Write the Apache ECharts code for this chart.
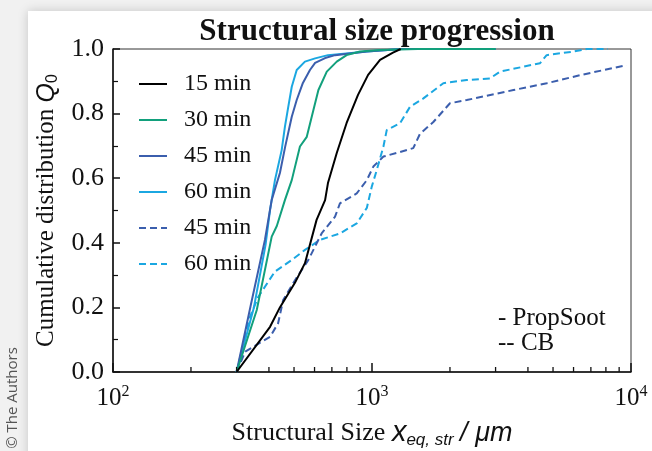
<!DOCTYPE html>
<html>
<head>
<meta charset="utf-8">
<script src="https://cdn.jsdelivr.net/npm/echarts@6/dist/echarts.min.js"></script>
<style>
  html, body { margin: 0; padding: 0; background: #f1f1f1; }
  #chart { width: 652px; height: 451px; }
</style>
</head>
<body>
<div id="chart"></div>
<script>
// Cumulative distribution Q0 of structural size (µm) per residence time
const blackX = [300, 404, 441, 504, 551, 611, 659, 676, 731, 798, 883, 966, 1074, 1205, 1290];
const blackY = [0, 0.14, 0.2, 0.276, 0.337, 0.471, 0.532, 0.585, 0.678, 0.771, 0.858, 0.92, 0.966, 0.989, 1.0];

const green30X = [300, 359, 410, 429, 461, 490, 527, 560, 594, 621, 669, 731, 798, 898, 1074, 1500, 3000];
const green30Y = [0, 0.192, 0.419, 0.452, 0.532, 0.594, 0.698, 0.728, 0.811, 0.873, 0.93, 0.961, 0.981, 0.992, 0.997, 1.0, 1.0];

const blue45X = [300, 340, 386, 410, 441, 462, 490, 512, 541, 576, 603, 659, 720, 955, 1300, 3000];
const blue45Y = [0, 0.205, 0.409, 0.533, 0.616, 0.697, 0.79, 0.842, 0.895, 0.935, 0.957, 0.972, 0.981, 0.992, 1.0, 1.0];

const cyan60X = [300, 350, 388, 404, 422, 448, 461, 475, 490, 512, 551, 603, 676, 957, 1300, 3000];
const cyan60Y = [0, 0.2, 0.393, 0.502, 0.594, 0.687, 0.759, 0.821, 0.883, 0.935, 0.961, 0.971, 0.981, 0.992, 1.0, 1.0];

const cb45X = [300, 324, 404, 434, 454, 505, 568, 639, 720, 752, 873, 955, 1012, 1107, 1283, 1443, 1531, 1725, 2000, 2321, 3516, 4730, 6356, 9613];
const cb45Y = [0, 0.063, 0.109, 0.151, 0.223, 0.285, 0.347, 0.429, 0.481, 0.522, 0.553, 0.594, 0.636, 0.667, 0.681, 0.693, 0.737, 0.774, 0.832, 0.842, 0.873, 0.894, 0.919, 0.95];

const cb60X = [300, 338, 364, 422, 490, 551, 630, 752, 873, 955, 998, 1043, 1107, 1140, 1283, 1402, 1579, 1885, 2321, 2856, 3122, 4455, 4724, 5980, 6745, 8150];
const cb60Y = [0, 0.171, 0.233, 0.311, 0.347, 0.378, 0.409, 0.429, 0.46, 0.508, 0.574, 0.625, 0.698, 0.749, 0.77, 0.821, 0.847, 0.894, 0.904, 0.909, 0.93, 0.956, 0.981, 0.992, 1.0, 1.0];

const seriesNames = ['15 min', '30 min', '45 min', '60 min', '45 min ', '60 min '];
const xMinorTicks = [200, 300, 400, 500, 600, 700, 800, 900, 2000, 3000, 4000, 5000, 6000, 7000, 8000, 9000];

const pairs = (xs, ys) => xs.map((x, i) => [x, ys[i]]);

const SERIF = "'Liberation Serif', 'Times New Roman', serif";
const SANS = "'Liberation Sans', Arial, sans-serif";

const colors = ['#000000', '#12a07c', '#3b5ead', '#1ba7e1', '#3b5ead', '#1ba7e1'];
const xs = [blackX, green30X, blue45X, cyan60X, cb45X, cb60X];
const ys = [blackY, green30Y, blue45Y, cyan60Y, cb45Y, cb60Y];

const chart = echarts.init(document.getElementById('chart'), null, { renderer: 'canvas' });

const series = seriesNames.map((name, i) => ({
  name: name,
  type: 'line',
  symbol: 'none',
  smooth: false,
  data: pairs(xs[i], ys[i]),
  z: 10 - i,
  lineStyle: {
    color: colors[i],
    width: 2,
    type: i >= 4 ? [7, 4] : 'solid'
  },
  itemStyle: { color: colors[i] }
}));

// log-axis minor ticks (2..9 of each decade), placed through the axis scale
series.push({
  type: 'custom',
  name: 'minor ticks',
  silent: true,
  clip: false,
  z: 20,
  data: xMinorTicks.map(v => [v, 0]),
  renderItem: (params, api) => {
    const p = api.coord([api.value(0), 0]);
    return {
      type: 'line',
      shape: { x1: p[0], y1: p[1], x2: p[0], y2: p[1] - 5 },
      style: { stroke: '#111', lineWidth: 1.3 }
    };
  }
});

const supMap = { '100': '2', '1000': '3', '10000': '4' };

chart.setOption({
  backgroundColor: '#f1f1f1',
  animation: false,
  title: {
    text: 'Structural size progression',
    left: 372,
    top: 11,
    textAlign: 'center',
    textStyle: { fontFamily: SERIF, fontWeight: 'bold', fontSize: 31, color: '#111' }
  },
  grid: {
    left: 113, right: 21, top: 49, bottom: 79,
    outerBoundsMode: 'none',
    containLabel: false,
    show: true, borderColor: '#333', borderWidth: 1, backgroundColor: 'transparent'
  },
  legend: {
    orient: 'vertical',
    left: 133,
    top: 67,
    itemWidth: 28,
    itemHeight: 14,
    itemGap: 12,
    data: seriesNames,
    itemStyle: { opacity: 0 },
    textStyle: { fontFamily: SERIF, fontSize: 24, color: '#111', padding: [0, 0, 0, 12] }
  },
  xAxis: {
    type: 'log',
    logBase: 10,
    min: 100,
    max: 10000,
    axisLine: { show: true, lineStyle: { color: '#111', width: 1.5 } },
    axisTick: { show: true, inside: true, length: 9, lineStyle: { color: '#111', width: 1.5 } },
    splitLine: { show: false },
    axisLabel: {
      margin: 12,
      formatter: v => '{b|10}{s|' + (supMap[String(Math.round(v))] || '') + '}',
      rich: {
        b: { fontFamily: SERIF, fontSize: 25, color: '#111', lineHeight: 28 },
        s: { fontFamily: SERIF, fontSize: 16, color: '#111', lineHeight: 16, verticalAlign: 'top' }
      }
    },
    name: '{s|Structural Size }{x|x}{sub|eq, str}{s| }{u|/ μm}',
    nameLocation: 'middle',
    nameGap: 45,
    nameTextStyle: {
      rich: {
        s: { fontFamily: SERIF, fontSize: 26, color: '#111', lineHeight: 32 },
        x: { fontFamily: SANS, fontStyle: 'italic', fontSize: 29, color: '#111', lineHeight: 32 },
        sub: { fontFamily: SANS, fontStyle: 'italic', fontSize: 17, color: '#111', lineHeight: 17, verticalAlign: 'bottom' },
        u: { fontFamily: SANS, fontStyle: 'italic', fontSize: 27, color: '#111', lineHeight: 32 }
      }
    }
  },
  yAxis: {
    type: 'value',
    min: 0,
    max: 1,
    interval: 0.2,
    axisLine: { show: true, lineStyle: { color: '#111', width: 1.5 } },
    axisTick: { show: true, inside: true, length: 7, lineStyle: { color: '#111', width: 1.5 } },
    minorTick: { show: true, splitNumber: 2, length: 5, lineStyle: { color: '#111', width: 1.2 } },
    splitLine: { show: false },
    axisLabel: {
      margin: 9,
      fontFamily: SERIF, fontSize: 26, color: '#111',
      formatter: v => v.toFixed(1)
    },
    name: '{s|Cumulative distribution }{q|Q}{sub|0}',
    nameLocation: 'middle',
    nameGap: 48,
    nameTextStyle: {
      rich: {
        s: { fontFamily: SERIF, fontSize: 25, color: '#111', lineHeight: 28 },
        q: { fontFamily: SANS, fontStyle: 'italic', fontSize: 25, color: '#111', lineHeight: 28 },
        sub: { fontFamily: SANS, fontSize: 16, color: '#111', lineHeight: 16, verticalAlign: 'bottom' }
      }
    }
  },
  graphic: [
    {
      type: 'rect',
      z: -100,
      silent: true,
      shape: { x: 28, y: 11, width: 640, height: 460 },
      style: { fill: '#ffffff', shadowBlur: 10, shadowColor: 'rgba(0,0,0,0.18)' }
    },
    {
      type: 'text',
      x: 13, y: 398,
      rotation: Math.PI / 2,
      silent: true,
      style: {
        text: '© The Authors',
        font: "15px 'Open Sans', 'Noto Sans', sans-serif",
        fill: '#555',
        align: 'center',
        verticalAlign: 'middle'
      }
    },
    {
      type: 'text',
      x: 498, y: 318,
      silent: true,
      style: { text: '- PropSoot', font: "25px 'Liberation Serif', serif", fill: '#111', verticalAlign: 'middle' }
    },
    {
      type: 'text',
      x: 498, y: 343,
      silent: true,
      style: { text: '-- CB', font: "25px 'Liberation Serif', serif", fill: '#111', verticalAlign: 'middle' }
    }
  ],
  series: series
});
</script>
</body>
</html>
